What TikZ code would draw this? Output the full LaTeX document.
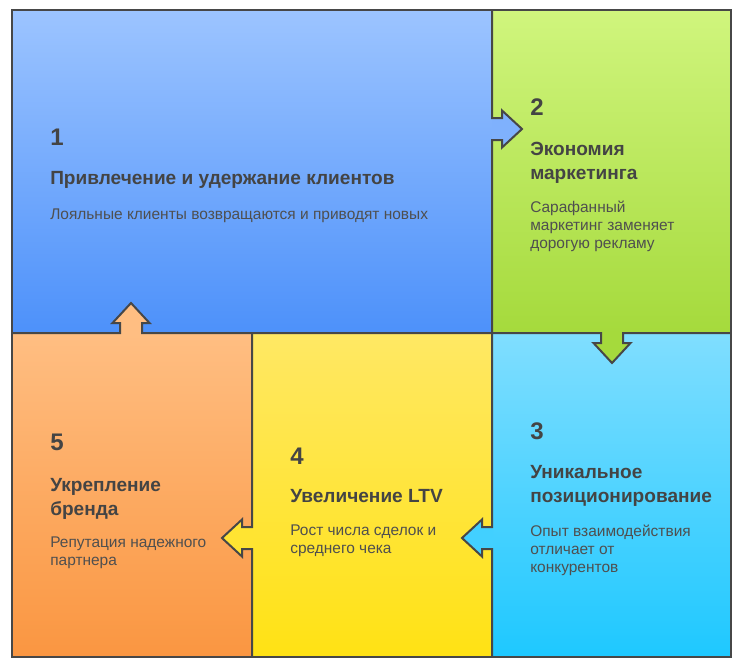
\documentclass[tikz,border=0pt]{standalone}
\usepackage{fontspec}
\setmainfont{Liberation Sans}
\usetikzlibrary{positioning}

\definecolor{linegray}{HTML}{474747}
\definecolor{textgray}{HTML}{444444}
\definecolor{descgray}{HTML}{4F4F4F}
\definecolor{blueA}{HTML}{9CC4FF}
\definecolor{blueB}{HTML}{4D91FA}
\definecolor{greenA}{HTML}{D0F57D}
\definecolor{greenB}{HTML}{A5DA3C}
\definecolor{cyanA}{HTML}{80DEFF}
\definecolor{cyanB}{HTML}{1EC8FF}
\definecolor{yellowA}{HTML}{FFE864}
\definecolor{yellowB}{HTML}{FFE214}
\definecolor{orangeA}{HTML}{FFBE82}
\definecolor{orangeB}{HTML}{FA9641}

\begin{document}
\begin{tikzpicture}[x=0.75pt,y=-0.75pt,
  border/.style={draw=linegray,line width=1.5pt,line join=miter},
  numtext/.style={anchor=base west,inner sep=0pt,text=textgray,font=\fontsize{18}{18}\selectfont\bfseries},
  titletext/.style={anchor=base west,inner sep=0pt,align=left,text=textgray,font=\fontsize{14.3}{18}\selectfont\bfseries},
  desctext/.style={anchor=base west,inner sep=0pt,align=left,text=descgray,font=\fontsize{11.6}{13.5}\selectfont}]

\useasboundingbox (0,0) rectangle (741,667);

% boxes
\shade[top color=blueA,bottom color=blueB](12,10) rectangle (492,333);
\shade[top color=greenA,bottom color=greenB](492,10) rectangle (731,333);
\shade[top color=orangeA,bottom color=orangeB](12,333) rectangle (252,657);
\shade[top color=yellowA,bottom color=yellowB](252,333) rectangle (492,657);
\shade[top color=cyanA,bottom color=cyanB](492,333) rectangle (731,657);

% tabs
\fill[blueA!63!blueB](492,118)--(502,118)--(502,110.5)--(522,129)--(502,147.5)--(502,140)--(492,140)--cycle;
\fill[greenB](601,332)--(601,343)--(593.5,343)--(612,363)--(630.5,343)--(623,343)--(623,332)--cycle;
\fill[cyanA!37!cyanB](493,527)--(482,527)--(482,519.5)--(462,538)--(482,556.5)--(482,549)--(493,549)--cycle;
\fill[yellowA!37!yellowB](253,527)--(242,527)--(242,519.5)--(222,538)--(242,556.5)--(242,549)--(253,549)--cycle;
\fill[orangeA](120,334)--(120,323)--(112.5,323)--(131,303)--(149.5,323)--(142,323)--(142,334)--cycle;

% borders
\draw[border](12,10) rectangle (731,657);
\draw[border](492,10)--(492,118)--(502,118)--(502,110.5)--(522,129)--(502,147.5)--(502,140)--(492,140)--(492,527)--(482,527)--(482,519.5)--(462,538)--(482,556.5)--(482,549)--(492,549)--(492,657);
\draw[border](12,333)--(120,333)--(120,323)--(112.5,323)--(131,303)--(149.5,323)--(142,323)--(142,333)--(601,333)--(601,343)--(593.5,343)--(612,363)--(630.5,343)--(623,343)--(623,333)--(731,333);
\draw[border](252,333)--(252,527)--(242,527)--(242,519.5)--(222,538)--(242,556.5)--(242,549)--(252,549)--(252,657);

% texts (base = last line)
\node[numtext](num1) at (50,145){1};
\node[titletext](title1) at (50,184){Привлечение и удержание клиентов};
\node[desctext](desc1) at (50,219){Лояльные клиенты возвращаются и приводят новых};

\node[numtext](num2) at (530,115){2};
\node[titletext](title2) at (530,179){Экономия\\маркетинга};
\node[desctext](desc2) at (530,248){Сарафанный\\маркетинг заменяет\\дорогую рекламу};

\node[numtext](num3) at (530,439){3};
\node[titletext](title3) at (530,502){Уникальное\\позиционирование};
\node[desctext](desc3) at (530,572){Опыт взаимодействия\\отличает от\\конкурентов};

\node[numtext](num4) at (290,464){4};
\node[titletext](title4) at (290,502){Увеличение LTV};
\node[desctext](desc4) at (290,553){Рост числа сделок и\\среднего чека};

\node[numtext](num5) at (50,450){5};
\node[titletext](title5) at (50,515){Укрепление\\бренда};
\node[desctext](desc5) at (50,565){Репутация надежного\\партнера};

\end{tikzpicture}
\end{document}
